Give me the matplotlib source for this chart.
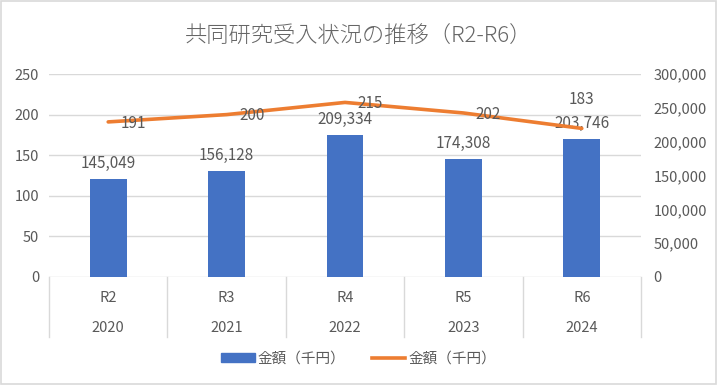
import matplotlib
matplotlib.use("Agg")
import matplotlib.pyplot as plt
from matplotlib.patches import Rectangle
from matplotlib.lines import Line2D

plt.rcParams['font.family'] = ['Noto Sans CJK JP', 'DejaVu Sans']

# ---- data ----
reiwa = ["R2", "R3", "R4", "R5", "R6"]
years = ["2020", "2021", "2022", "2023", "2024"]
amounts = [145049, 156128, 209334, 174308, 203746]   # bars, right axis
counts = [191, 200, 215, 202, 183]                    # line, left axis
series_label = "金額（千円）"
title = "共同研究受入状況の推移（R2-R6）"

BLUE = "#4472C4"
ORANGE = "#ED7D31"
TXT = "#595959"
GRID = "#D9D9D9"

W, H = 717, 385
fig = plt.figure(figsize=(W / 100, H / 100), dpi=100)
fig.patch.set_facecolor("white")
fig.add_artist(Rectangle((0.002, 0.003), 0.996, 0.994, transform=fig.transFigure,
                         fill=False, edgecolor=GRID, linewidth=1.2))

left, right, top, bottom = 49, 641, 74, 277
ax = fig.add_axes([left / W, 1 - bottom / H, (right - left) / W, (bottom - top) / H])
ax2 = ax.twinx()

x = list(range(len(reiwa)))

# bars on right axis
ax2.bar(x, amounts, width=0.31, color=BLUE, zorder=2)
ax2.set_ylim(0, 300000)
ax2.set_yticks(range(0, 300001, 50000))
ax2.set_yticklabels([f"{v:,}" for v in range(0, 300001, 50000)])
for xi, v in zip(x, amounts):
    ax2.annotate(f"{v:,}", (xi, v), xytext=(0, 5), textcoords="offset points",
                 ha="center", va="bottom", fontsize=11, color=TXT)

# line on left axis (drawn on top)
ax.set_zorder(ax2.get_zorder() + 1)
ax.patch.set_visible(False)
ax.plot(x, counts, color=ORANGE, linewidth=2.6, solid_capstyle="round", zorder=3)
ax.set_ylim(0, 250)
ax.set_yticks(range(0, 251, 50))
for i, (xi, v) in enumerate(zip(x, counts)):
    if i == len(counts) - 1:
        ax.annotate(str(v), (xi, v), xytext=(0, 21), textcoords="offset points",
                    ha="center", va="center", fontsize=11, color=TXT)
    else:
        ax.annotate(str(v), (xi, v), xytext=(9, -1), textcoords="offset points",
                    ha="left", va="center", fontsize=11, color=TXT)

ax.set_xlim(-0.5, len(reiwa) - 0.5)
for a in (ax, ax2):
    for s in a.spines.values():
        s.set_visible(False)
    a.tick_params(axis="y", length=0, labelsize=10.5, labelcolor=TXT)
ax.tick_params(axis="y", pad=7)
ax2.tick_params(axis="y", pad=9)
ax.set_xticks([])
ax2.set_xticks([])

# gridlines (drawn on ax2 beneath bars)
for g in range(0, 251, 50):
    ax2.axhline(g * 300000 / 250, color=GRID, linewidth=1.0, zorder=0)

# multi-level category axis
tr = ax.get_xaxis_transform()
axh = bottom - top
depth = 60 / axh
for b in range(len(reiwa) + 1):
    ax.add_line(Line2D([b - 0.5, b - 0.5], [0, -depth], transform=tr, color=GRID,
                       linewidth=1.0, clip_on=False))
for xi, r, yv in zip(x, reiwa, years):
    ax.text(xi, -21 / axh, r, transform=tr, ha="center", va="center", fontsize=10.5, color=TXT)
    ax.text(xi, -51 / axh, yv, transform=tr, ha="center", va="center", fontsize=10.5, color=TXT)

# title
fig.text(0.5, 1 - 37 / H, title, ha="center", va="center", fontsize=16,
         color="#666666", fontweight="light")

# legend
handles = [Rectangle((0, 0), 1, 1, color=BLUE),
           Line2D([0], [0], color=ORANGE, linewidth=2.6)]
fig.legend(handles, [series_label, series_label], loc="center",
           bbox_to_anchor=(0.5, 1 - 359 / H), ncol=2, frameon=False,
           fontsize=10.5, labelcolor=TXT, handlelength=2.3, handleheight=0.6,
           handletextpad=0.2, columnspacing=1.8)

fig.savefig("out.png", dpi=100)
